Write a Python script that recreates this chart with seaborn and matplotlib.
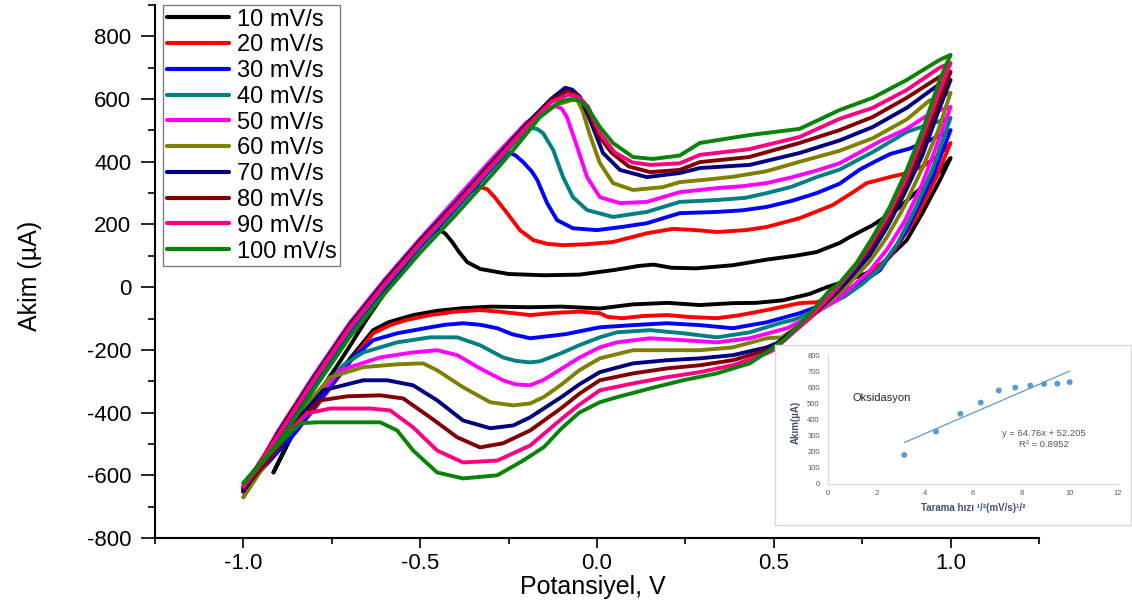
import matplotlib
matplotlib.use("Agg")
import matplotlib.pyplot as plt
from matplotlib.ticker import MultipleLocator, FormatStrFormatter
import pandas as pd
import seaborn as sns

# ---------------- main chart data (potential V, current uA) ----------------
labels = ["10 mV/s", "20 mV/s", "30 mV/s", "40 mV/s", "50 mV/s",
          "60 mV/s", "70 mV/s", "80 mV/s", "90 mV/s", "100 mV/s"]
colors = ["#000000", "#ff0000", "#0000ff", "#008080", "#ff00ff",
          "#808000", "#000080", "#800000", "#ff0080", "#078407"]

# 10 mV/s
E_10_f = [-0.915, -0.87, -0.80, -0.72, -0.65, -0.58, -0.52, -0.48, -0.452, -0.43, -0.41, -0.39, -0.367, -0.33, -0.25, -0.15, -0.05, 0.05, 0.12, 0.16, 0.21, 0.28, 0.384, 0.48, 0.56, 0.621, 0.686, 0.715, 0.78, 0.85, 0.92, 0.97, 1.0]
I_10_f = [-591, -490, -360, -225, -100, 15, 105, 155, 185, 172, 145, 112, 80, 58, 42, 38, 40, 55, 68, 72, 62, 60, 70, 88, 100, 112, 141, 160, 198, 250, 320, 370, 412]
E_10_r = [1.0, 0.97, 0.92, 0.876, 0.808, 0.763, 0.70, 0.65, 0.6, 0.525, 0.45, 0.384, 0.29, 0.2, 0.1, 0.008, -0.1, -0.19, -0.3, -0.38, -0.45, -0.52, -0.59, -0.633, -0.7, -0.78, -0.867, -0.915]
I_10_r = [412, 342, 236, 150, 77, 45, 18, 0, -22, -42, -50, -51, -57, -50, -55, -68, -62, -64, -62, -67, -75, -89, -112, -137, -230, -350, -479, -591]

# 20 mV/s
E_20_f = [-1.0, -0.9, -0.8, -0.7, -0.6, -0.5, -0.42, -0.37, -0.339, -0.31, -0.29, -0.254, -0.218, -0.18, -0.14, -0.096, -0.03, 0.045, 0.10, 0.141, 0.215, 0.28, 0.339, 0.42, 0.48, 0.573, 0.667, 0.72, 0.763, 0.828, 0.87, 0.92, 0.96, 1.0]
I_20_f = [-640, -475, -305, -140, 0, 130, 225, 290, 323, 312, 288, 236, 182, 150, 138, 134, 137, 144, 160, 172, 186, 182, 176, 182, 192, 220, 262, 300, 332, 351, 362, 385, 415, 460]
E_20_r = [1.0, 0.96, 0.904, 0.828, 0.75, 0.68, 0.621, 0.573, 0.48, 0.40, 0.339, 0.26, 0.198, 0.13, 0.073, 0.03, 0.008, -0.05, -0.12, -0.189, -0.26, -0.331, -0.40, -0.472, -0.54, -0.585, -0.633, -0.7, -0.8, -0.9, -1.0]
I_20_r = [460, 351, 224, 96, 20, -25, -48, -51, -73, -90, -99, -95, -89, -92, -99, -95, -83, -78, -82, -89, -80, -73, -78, -89, -105, -121, -147, -240, -390, -520, -640]

# 30 mV/s
E_30_f = [-1.0, -0.9, -0.8, -0.7, -0.6, -0.5, -0.4, -0.32, -0.28, -0.251, -0.23, -0.209, -0.185, -0.169, -0.141, -0.113, -0.068, 0.0, 0.07, 0.141, 0.234, 0.339, 0.41, 0.48, 0.55, 0.621, 0.686, 0.743, 0.785, 0.83, 0.884, 0.94, 1.0]
I_30_f = [-645, -475, -305, -140, 0, 130, 250, 350, 400, 431, 420, 399, 370, 342, 268, 214, 188, 182, 192, 204, 236, 240, 245, 256, 275, 300, 330, 375, 400, 425, 442, 468, 501]
E_30_r = [1.0, 0.949, 0.876, 0.80, 0.706, 0.64, 0.573, 0.48, 0.384, 0.291, 0.198, 0.102, 0.008, -0.09, -0.189, -0.24, -0.282, -0.33, -0.379, -0.43, -0.472, -0.565, -0.633, -0.689, -0.75, -0.85, -0.93, -1.0]
I_30_r = [501, 351, 182, 54, -19, -55, -83, -112, -131, -121, -115, -121, -128, -150, -163, -150, -131, -120, -115, -120, -128, -147, -169, -224, -310, -460, -560, -645]

# 40 mV/s
E_40_f = [-1.0, -0.9, -0.8, -0.7, -0.6, -0.5, -0.4, -0.3, -0.23, -0.189, -0.17, -0.153, -0.124, -0.096, -0.068, -0.028, 0.045, 0.141, 0.234, 0.339, 0.42, 0.48, 0.55, 0.621, 0.686, 0.78, 0.876, 0.94, 1.0]
I_40_f = [-650, -470, -300, -135, 5, 135, 255, 380, 465, 508, 505, 492, 438, 351, 287, 246, 224, 240, 272, 278, 285, 300, 320, 351, 375, 431, 495, 520, 540]
E_40_r = [1.0, 0.95, 0.9, 0.85, 0.8, 0.75, 0.70, 0.63, 0.554, 0.525, 0.432, 0.339, 0.243, 0.15, 0.056, 0.008, -0.05, -0.1, -0.16, -0.189, -0.23, -0.266, -0.331, -0.395, -0.472, -0.565, -0.661, -0.718, -0.78, -0.88, -1.0]
I_40_r = [540, 380, 250, 140, 60, 10, -30, -70, -105, -112, -144, -160, -147, -137, -144, -160, -185, -210, -236, -240, -235, -224, -185, -160, -160, -176, -208, -249, -330, -470, -650]

# 50 mV/s
E_50_f = [-1.0, -0.9, -0.8, -0.7, -0.6, -0.5, -0.4, -0.3, -0.2, -0.14, -0.119, -0.1, -0.085, -0.056, -0.028, 0.008, 0.065, 0.141, 0.234, 0.339, 0.41, 0.48, 0.55, 0.621, 0.686, 0.743, 0.80, 0.876, 0.93, 0.97, 1.0]
I_50_f = [-655, -455, -280, -115, 25, 155, 280, 405, 525, 570, 578, 570, 543, 447, 351, 287, 268, 272, 303, 316, 322, 332, 350, 372, 395, 430, 465, 505, 545, 565, 575]
E_50_r = [1.0, 0.96, 0.92, 0.87, 0.82, 0.77, 0.72, 0.68, 0.6, 0.537, 0.432, 0.339, 0.243, 0.15, 0.056, 0.008, -0.05, -0.1, -0.15, -0.189, -0.23, -0.266, -0.331, -0.395, -0.452, -0.52, -0.613, -0.726, -0.79, -0.89, -1.0]
I_50_r = [575, 450, 330, 210, 120, 50, 0, -40, -95, -131, -163, -176, -169, -163, -176, -192, -225, -260, -295, -313, -310, -297, -259, -217, -201, -208, -224, -265, -350, -490, -655]

# 60 mV/s
E_60_f = [-1.0, -0.9, -0.8, -0.7, -0.6, -0.5, -0.4, -0.3, -0.2, -0.12, -0.07, -0.056, -0.04, -0.02, 0.008, 0.045, 0.102, 0.186, 0.234, 0.3, 0.384, 0.48, 0.573, 0.686, 0.78, 0.876, 0.94, 1.0]
I_60_f = [-670, -465, -290, -125, 15, 145, 265, 390, 510, 580, 597, 598, 560, 485, 396, 332, 310, 319, 335, 342, 352, 370, 400, 435, 475, 535, 595, 620]
E_60_r = [1.0, 0.965, 0.92, 0.87, 0.82, 0.77, 0.72, 0.68, 0.6, 0.522, 0.48, 0.384, 0.291, 0.198, 0.102, 0.008, -0.05, -0.1, -0.15, -0.189, -0.237, -0.302, -0.379, -0.452, -0.492, -0.565, -0.661, -0.754, -0.81, -0.9, -1.0]
I_60_r = [620, 500, 380, 260, 160, 80, 20, -25, -100, -160, -163, -192, -201, -201, -201, -227, -265, -310, -350, -371, -377, -367, -319, -265, -243, -246, -255, -287, -360, -500, -670]

# 70 mV/s
E_70_f = [-1.0, -0.9, -0.8, -0.7, -0.6, -0.5, -0.4, -0.3, -0.2, -0.13, -0.09, -0.07, -0.048, -0.02, 0.017, 0.065, 0.141, 0.234, 0.291, 0.432, 0.573, 0.686, 0.78, 0.876, 0.969, 1.0]
I_70_f = [-650, -460, -285, -120, 20, 150, 270, 395, 520, 600, 636, 630, 607, 534, 428, 374, 351, 364, 380, 390, 428, 468, 511, 572, 648, 661]
E_70_r = [1.0, 0.965, 0.92, 0.87, 0.82, 0.77, 0.72, 0.68, 0.6, 0.508, 0.48, 0.384, 0.291, 0.198, 0.102, 0.008, -0.05, -0.1, -0.189, -0.237, -0.302, -0.379, -0.452, -0.52, -0.593, -0.661, -0.774, -0.83, -0.92, -1.0]
I_70_r = [661, 560, 420, 300, 190, 100, 35, -15, -100, -179, -192, -217, -227, -233, -243, -271, -310, -350, -415, -441, -450, -425, -361, -313, -297, -297, -329, -400, -530, -650]

# 80 mV/s
E_80_f = [-1.0, -0.9, -0.8, -0.7, -0.6, -0.5, -0.4, -0.3, -0.2, -0.13, -0.085, -0.06, -0.035, 0.008, 0.04, 0.09, 0.15, 0.234, 0.291, 0.43, 0.573, 0.686, 0.78, 0.876, 0.969, 1.0]
I_80_f = [-640, -465, -290, -125, 15, 145, 265, 390, 515, 595, 625, 615, 585, 479, 430, 385, 367, 374, 399, 415, 460, 501, 543, 604, 671, 687]
E_80_r = [1.0, 0.967, 0.92, 0.87, 0.82, 0.77, 0.72, 0.68, 0.6, 0.5, 0.48, 0.384, 0.291, 0.198, 0.102, 0.008, -0.05, -0.1, -0.189, -0.266, -0.331, -0.395, -0.472, -0.548, -0.613, -0.706, -0.782, -0.84, -0.92, -1.0]
I_80_r = [687, 590, 450, 320, 210, 120, 50, -5, -100, -195, -201, -233, -249, -259, -275, -297, -340, -385, -457, -498, -511, -479, -415, -355, -345, -348, -361, -420, -540, -640]

# 90 mV/s
E_90_f = [-1.0, -0.9, -0.8, -0.7, -0.6, -0.5, -0.4, -0.3, -0.2, -0.13, -0.08, -0.05, -0.025, 0.008, 0.05, 0.1, 0.15, 0.234, 0.291, 0.43, 0.573, 0.686, 0.78, 0.876, 0.969, 1.0]
I_90_f = [-635, -470, -295, -130, 10, 140, 260, 385, 510, 590, 615, 605, 575, 492, 430, 398, 390, 395, 422, 440, 479, 537, 572, 629, 700, 715]
E_90_r = [1.0, 0.968, 0.92, 0.875, 0.825, 0.775, 0.73, 0.685, 0.6, 0.5, 0.48, 0.384, 0.291, 0.198, 0.102, 0.008, -0.05, -0.1, -0.189, -0.282, -0.379, -0.452, -0.52, -0.585, -0.641, -0.754, -0.819, -0.87, -0.94, -1.0]
I_90_r = [715, 625, 480, 350, 235, 140, 65, 5, -100, -200, -211, -249, -271, -287, -307, -329, -375, -420, -505, -553, -559, -521, -447, -393, -387, -387, -402, -460, -550, -635]

# 100 mV/s
E_100_f = [-1.0, -0.9, -0.8, -0.7, -0.6, -0.5, -0.4, -0.3, -0.237, -0.161, -0.105, -0.076, -0.05, -0.028, 0.008, 0.045, 0.102, 0.158, 0.234, 0.291, 0.43, 0.573, 0.686, 0.78, 0.876, 0.969, 1.0]
I_100_f = [-625, -495, -325, -160, -20, 110, 230, 355, 437, 543, 591, 600, 595, 575, 511, 460, 415, 409, 420, 460, 485, 505, 565, 604, 661, 725, 741]
E_100_r = [1.0, 0.969, 0.921, 0.876, 0.828, 0.78, 0.734, 0.686, 0.658, 0.593, 0.537, 0.497, 0.432, 0.339, 0.243, 0.15, 0.056, 0.008, -0.05, -0.1, -0.15, -0.209, -0.282, -0.379, -0.452, -0.52, -0.565, -0.613, -0.706, -0.791, -0.839, -0.89, -0.95, -1.0]
I_100_r = [741, 661, 501, 374, 256, 160, 77, 13, -10, -96, -160, -195, -243, -275, -297, -323, -351, -367, -400, -450, -510, -553, -600, -610, -591, -521, -457, -431, -431, -431, -434, -490, -560, -625]

x_ticks = [-1.0, -0.5, 0.0, 0.5, 1.0]
y_ticks = [-800, -600, -400, -200, 0, 200, 400, 600, 800]

# ---------------- inset data ----------------
ins_x = [3.16, 4.47, 5.48, 6.32, 7.07, 7.75, 8.37, 8.94, 9.49, 10.0]
ins_y = [180, 325, 435, 505, 580, 598, 610, 620, 622, 632]
trend_x = [3.16, 10.0]
trend_y = [257, 700]
eq_text = "y = 64.76x + 52.205"
r2_text = "R² = 0.8952"

curves = [
    (E_10_f, I_10_f, E_10_r, I_10_r), (E_20_f, I_20_f, E_20_r, I_20_r),
    (E_30_f, I_30_f, E_30_r, I_30_r), (E_40_f, I_40_f, E_40_r, I_40_r),
    (E_50_f, I_50_f, E_50_r, I_50_r), (E_60_f, I_60_f, E_60_r, I_60_r),
    (E_70_f, I_70_f, E_70_r, I_70_r), (E_80_f, I_80_f, E_80_r, I_80_r),
    (E_90_f, I_90_f, E_90_r, I_90_r), (E_100_f, I_100_f, E_100_r, I_100_r),
]

# ---------------- styling ----------------
sns.set_theme(style="ticks", rc={
    "axes.edgecolor": "black", "xtick.color": "black", "ytick.color": "black",
    "text.color": "black", "axes.labelcolor": "black"})
plt.rcParams["font.family"] = ["Liberation Sans", "DejaVu Sans"]
plt.rcParams["axes.unicode_minus"] = False

W, H = 1132, 610
fig = plt.figure(figsize=(W / 100, H / 100), dpi=100)
fig.patch.set_facecolor("white")
ax = fig.add_axes([155 / W, (H - 538) / H, 884 / W, 533 / H])

for (ef, i_f, er, i_r), lab, col in zip(curves, labels, colors):
    df = pd.DataFrame({"E": ef + er, "I": i_f + i_r})
    sns.lineplot(data=df, x="E", y="I", sort=False, estimator=None,
                 color=col, lw=2.8, label=lab, ax=ax)
for ln in ax.lines:
    ln.set_solid_joinstyle("round")
    ln.set_solid_capstyle("round")

ax.set_xlim(-1.25, 1.25)
ax.set_ylim(-800, 900)
ax.set_xticks(x_ticks)
ax.set_yticks(y_ticks)
ax.xaxis.set_minor_locator(MultipleLocator(0.25))
ax.yaxis.set_minor_locator(MultipleLocator(100))
ax.xaxis.set_major_formatter(FormatStrFormatter("%.1f"))
ax.yaxis.set_major_formatter(FormatStrFormatter("%d"))
ax.tick_params(axis="x", which="major", length=7.5, width=1.2, direction="out", labelsize=16, pad=3)
ax.tick_params(axis="x", which="minor", length=4, width=1.2, direction="out")
ax.tick_params(axis="y", which="major", length=10, width=1.2, direction="out", labelsize=16, pad=7)
ax.tick_params(axis="y", which="minor", length=5, width=1.2, direction="out")
for s in ["top", "right"]:
    ax.spines[s].set_visible(False)
for s in ["left", "bottom"]:
    ax.spines[s].set_linewidth(1.5)
ax.set_facecolor("white")

ax.set_xlabel("Potansiyel, V", fontsize=18)
ax.xaxis.set_label_coords(0.495, -0.069)
ax.set_ylabel("Akim (µA)", fontsize=18)
ax.yaxis.set_label_coords(-0.128, 0.4916)

leg = ax.legend(loc="upper left", bbox_to_anchor=(8 / 884, 1.0), fontsize=17,
                frameon=True, fancybox=False, edgecolor="#7f7f7f", framealpha=1,
                borderpad=0.15, labelspacing=0.16, handlelength=2.65,
                handletextpad=0.33, borderaxespad=0)
leg.get_frame().set_linewidth(1.0)
for hl in leg.get_lines():
    hl.set_linewidth(3.0)

# ---------------- inset ----------------
frame = fig.add_axes([775 / W, (H - 525) / H, 356 / W, 180 / H])
frame.set_zorder(5)
frame.set_facecolor("white")
frame.set_xticks([])
frame.set_yticks([])
for s in frame.spines.values():
    s.set_color("#d9d9d9")
    s.set_linewidth(1.0)

ins = fig.add_axes([828 / W, (H - 484) / H, 290 / W, 129 / H])
ins.set_zorder(6)
ins.patch.set_alpha(0)
sns.lineplot(x=trend_x, y=trend_y, color="#5b9bd5", lw=0.9, ax=ins)
sns.scatterplot(x=ins_x, y=ins_y, color="#5b9bd5", s=18, edgecolor="none", ax=ins)
ins.set_xlim(0, 12)
ins.set_ylim(0, 800)
ins.set_xticks(range(0, 13, 2))
ins.set_yticks(range(0, 801, 100))
ins.tick_params(axis="both", length=0, labelsize=5.5, colors="#595959")
ins.tick_params(axis="y", pad=6)
ins.tick_params(axis="x", pad=4)
for s in ["top", "right"]:
    ins.spines[s].set_visible(False)
for s in ["left", "bottom"]:
    ins.spines[s].set_color("#d9d9d9")
    ins.spines[s].set_linewidth(0.9)
ins.set_xlabel("Tarama hızı ¹/²(mV/s)¹/²", fontsize=7, fontweight="bold", color="#44546a")
ins.xaxis.set_label_coords(0.5, -0.15)
ins.set_ylabel("Akım(µA)", fontsize=7, fontweight="bold", color="#44546a")
ins.yaxis.set_label_coords(-0.095, 0.48)
ins.text(1.0, 535, "Oksidasyon", fontsize=8, color="#262626", ha="left", va="center")
ins.text(8.94, 314, eq_text, fontsize=6.8, color="#595959", ha="center", va="center")
ins.text(8.94, 242, r2_text, fontsize=6.8, color="#595959", ha="center", va="center")

fig.savefig("out.png", dpi=100, facecolor="white")
